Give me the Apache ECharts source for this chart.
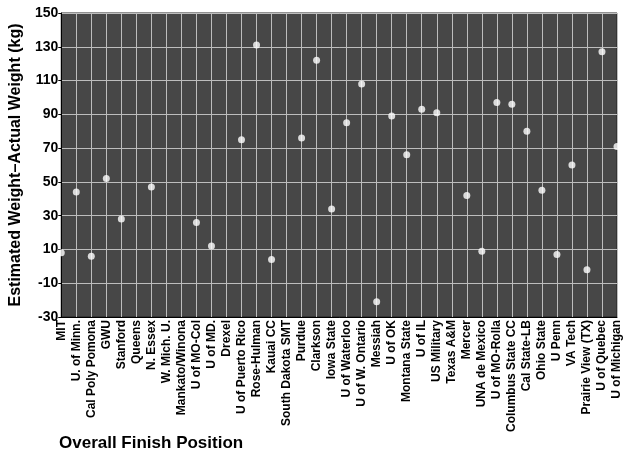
<!DOCTYPE html>
<html><head><meta charset="utf-8">
<script src="https://cdn.jsdelivr.net/npm/echarts@6/dist/echarts.min.js"></script>
<style>html,body{margin:0;padding:0;background:#fff}#c{width:624px;height:455px}</style>
</head><body><div id="c"></div>
<script>
const categories = ["MIT","U. of Minn.","Cal Poly Pomona","GWU","Stanford","Queens","N. Essex","W. Mich. U.","Mankato/Winona","U of MO-Col","U of MD.","Drexel","U of Puerto Rico","Rose-Hulman","Kauai CC","South Dakota SMT","Purdue","Clarkson","Iowa State","U of Waterloo","U of W. Ontario","Messiah","U of OK","Montana State","U of IL","US Military","Texas A&M","Mercer","UNA de Mexico","U of MO-Rolla","Columbus State CC","Cal State-LB","Ohio State","U Penn","VA Tech","Prairie View (TX)","U of Quebec","U of Michigan"];
const weightDiff = [8,44,6,52,28,null,47,null,null,26,12,null,75,131,4,null,76,122,34,85,108,-21,89,66,93,91,null,42,9,97,96,80,45,7,60,-2,127,71];
const yTicks = {min:-30, max:150, interval:20};

const chart = echarts.init(document.getElementById('c'));
const font = '"Liberation Sans", Arial, sans-serif';
chart.setOption({
  animation:false,
  title:{text:'Overall Finish Position',left:59,top:435,padding:0,textStyle:{fontFamily:font,fontWeight:'bold',fontSize:17,color:'#000'}},
  grid:{left:59,right:7,top:13,bottom:138,show:true,backgroundColor:'#474747',borderColor:'#222',borderWidth:1},
  xAxis:{type:'category',data:categories,boundaryGap:false,
    axisLine:{onZero:false,lineStyle:{color:'#000'}},axisTick:{show:false},
    axisLabel:{interval:0,rotate:90,fontFamily:font,fontWeight:'bold',fontSize:12,color:'#000',margin:3},
    splitLine:{show:true,interval:0,lineStyle:{color:'#bdbdbd',width:1}}},
  yAxis:{type:'value',min:yTicks.min,max:yTicks.max,interval:yTicks.interval,
    name:'Estimated Weight\u2013Actual Weight (kg)',nameLocation:'middle',nameGap:35,
    nameTextStyle:{fontFamily:font,fontWeight:'bold',fontSize:16,color:'#000'},
    axisLine:{show:true,lineStyle:{color:'#000'}},axisTick:{show:true,length:3,lineStyle:{color:'#000'}},
    axisLabel:{fontFamily:font,fontWeight:'bold',fontSize:14,color:'#000',margin:3},
    splitLine:{show:true,lineStyle:{color:'#bdbdbd',width:1}}},
  series:[{type:'scatter',data:weightDiff,symbol:'circle',symbolSize:7,itemStyle:{color:'#fff'}}]
});
</script></body></html>
